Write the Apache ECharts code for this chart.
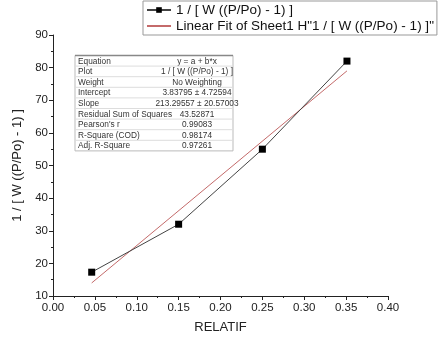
<!DOCTYPE html>
<html><head><meta charset="utf-8">
<script src="https://cdn.jsdelivr.net/npm/echarts@6/dist/echarts.min.js"></script>
<style>html,body{margin:0;padding:0;background:#fff}#c{width:443px;height:342px}</style>
</head><body><div id="c"></div>
<script>
const relatif = [0.0462, 0.15, 0.25, 0.351];
const invW = [17.3, 32.0, 55.0, 82.0];
const fitX = [0.0462, 0.351];
const fitY = [14.0, 79.0];
const tableLabels = ['Equation','Plot','Weight','Intercept','Slope','Residual Sum of Squares',"Pearson's r",'R-Square (COD)','Adj. R-Square'];
const tableValues = ['y = a + b*x','1 / [ W ((P/Po) - 1) ]','No Weighting','3.83795 ± 4.72594','213.29557 ± 20.57003','43.52871','0.99083','0.98174','0.97261'];
const seriesNames = ['1 / [ W ((P/Po) - 1) ]', 'Linear Fit of Sheet1 H"1 / [ W ((P/Po) - 1) ]"'];

const chart = echarts.init(document.getElementById('c'), null, {renderer:'canvas'});
const font = 'Liberation Sans, Arial, sans-serif';

// statistics table (annotation)
const tx0 = 75, tx1 = 233, ty0 = 55.5, rowH = 10.6;
const tableEls = [];
tableEls.push({type:'rect', shape:{x:tx0,y:ty0,width:tx1-tx0,height:rowH*tableLabels.length}, style:{fill:'#fff', stroke:'#bbb', lineWidth:1}, z:10});
tableEls.push({type:'line', shape:{x1:tx0,y1:ty0,x2:tx1,y2:ty0}, style:{stroke:'#888',lineWidth:1.5}, z:11});
tableLabels.forEach((lab,i)=>{
  const yc = ty0 + rowH*i + rowH/2 + 0.5;
  tableEls.push({type:'text', style:{x:tx0+3,y:yc,text:lab,fill:'#333',font:'8.3px '+font,verticalAlign:'middle'}, z:11});
  tableEls.push({type:'text', style:{x:197,y:yc,text:tableValues[i],fill:'#333',font:'8.3px '+font,align:'center',verticalAlign:'middle'}, z:11});
  if (i < tableLabels.length-1) {
    const yl = ty0 + rowH*(i+1);
    tableEls.push({type:'line', shape:{x1:tx0,y1:yl,x2:tx1,y2:yl}, style:{stroke:'#ddd',lineWidth:1}, z:11});
  }
});

chart.setOption({
  animation:false,
  backgroundColor:'#fff',
  textStyle:{fontFamily:font},
  grid:{left:53,right:55,top:35,bottom:46,containLabel:false},
  legend:{
    orient:'vertical', left:143, top:1,
    itemWidth:24, itemHeight:7, itemGap:2,
    padding:[2,3,2,3],
    borderColor:'#999', borderWidth:1,
    backgroundColor:'#fff',
    textStyle:{fontSize:13.5, color:'#111', fontFamily:font},
    data:[
      {name:seriesNames[0]},
      {name:seriesNames[1], itemStyle:{opacity:0}}
    ]
  },
  xAxis:{
    type:'value', min:0, max:0.4, interval:0.05,
    name:'RELATIF', nameLocation:'middle', nameGap:25,
    nameTextStyle:{fontSize:13,color:'#222',fontFamily:font},
    axisLine:{show:true,onZero:false,lineStyle:{color:'#222',width:1}},
    axisTick:{show:true,inside:false,length:4,lineStyle:{color:'#222'}},
    minorTick:{show:true,splitNumber:2,length:2,lineStyle:{color:'#222'}},
    splitLine:{show:false},
    axisLabel:{fontSize:11.5,color:'#222',margin:6,formatter:v=>v.toFixed(2)}
  },
  yAxis:{
    type:'value', min:10, max:90, interval:10,
    name:'1 / [ W ((P/Po) - 1) ]', nameLocation:'middle', nameGap:25,
    nameTextStyle:{fontSize:13,color:'#222',fontFamily:font},
    axisLine:{show:true,onZero:false,lineStyle:{color:'#222',width:1}},
    axisTick:{show:true,inside:false,length:4,lineStyle:{color:'#222'}},
    minorTick:{show:true,splitNumber:2,length:2,lineStyle:{color:'#222'}},
    splitLine:{show:false},
    axisLabel:{fontSize:11.5,color:'#222',margin:5}
  },
  graphic:[{type:'group',children:tableEls}],
  series:[
    {name:seriesNames[0], type:'line', data:relatif.map((x,i)=>[x,invW[i]]),
     symbol:'rect', symbolSize:7, showAllSymbol:true,
     itemStyle:{color:'#000'}, lineStyle:{color:'#444',width:1}, z:3},
    {name:seriesNames[1], type:'line', data:fitX.map((x,i)=>[x,fitY[i]]),
     symbol:'none', itemStyle:{color:'#c46a6a'}, lineStyle:{color:'#c46a6a',width:1}, z:2}
  ]
});
</script></body></html>
